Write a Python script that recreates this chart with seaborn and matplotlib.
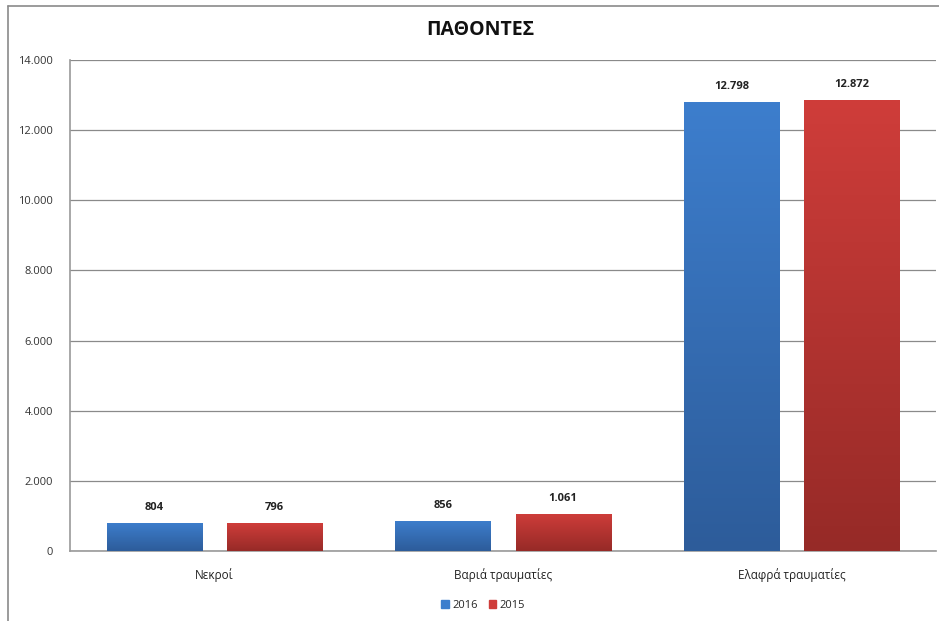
import matplotlib
matplotlib.use("Agg")
import matplotlib.pyplot as plt
import matplotlib.colors as mcolors
from matplotlib.patches import Rectangle
from matplotlib.lines import Line2D
import numpy as np
import pandas as pd
import seaborn as sns

categories = ["Νεκροί", "Βαριά τραυματίες", "Ελαφρά τραυματίες"]
years = ["2016", "2015"]
values_2016 = [804, 856, 12798]
values_2015 = [796, 1061, 12872]
yticks = [0, 2000, 4000, 6000, 8000, 10000, 12000, 14000]

df = pd.DataFrame({
    "cat": categories * 2,
    "year": [years[0]] * 3 + [years[1]] * 3,
    "val": values_2016 + values_2015,
})

sns.set_theme(style="white")
plt.rcParams['font.family'] = ['Open Sans', 'DejaVu Sans']

fig = plt.figure(figsize=(9.39, 6.21), dpi=100)
ax = fig.add_axes([70/939, 1-551/621, 866/939, 491/621])

top_cols = {"2016": "#3D7ECD", "2015": "#CF3D3A"}
bot_cols = {"2016": "#2D5C9A", "2015": "#962A27"}

sns.barplot(data=df, x="cat", y="val", hue="year", order=categories,
            hue_order=years, palette=top_cols, width=0.834, gap=0.21,
            ax=ax, legend=False, edgecolor="none", zorder=3)

ax.set_ylim(0, 14000)
ax.set_xlim(-0.5, 2.5)
ax.set_yticks(yticks)
ax.set_yticklabels([f"{v:,}".replace(",", ".") for v in yticks], fontsize=8, color="#333333")
ax.tick_params(axis="y", length=0, pad=12)
ax.tick_params(axis="x", length=0, pad=12, labelsize=8.5)
ax.set_xlabel("")
ax.set_ylabel("")
for lab in ax.get_xticklabels():
    lab.set_color("#222222")

ax.grid(axis="y", color="#8a8a8a", linewidth=0.9, zorder=0)
ax.set_axisbelow(True)
for s in ["top", "right"]:
    ax.spines[s].set_visible(False)
ax.spines["left"].set_color("#999999")
ax.spines["bottom"].set_color("#999999")
ax.spines["left"].set_linewidth(1.2)
ax.spines["bottom"].set_linewidth(1.2)

# gradient fill and labels
containers = ax.containers
for cont, yr in zip(containers, years):
    cmap = mcolors.LinearSegmentedColormap.from_list("g", [bot_cols[yr], top_cols[yr]])
    grad = np.linspace(0, 1, 256).reshape(-1, 1)
    for patch in cont:
        x0 = patch.get_x(); w = patch.get_width(); h = patch.get_height()
        im = ax.imshow(grad, cmap=cmap, aspect="auto", origin="lower",
                       extent=[x0, x0 + w, 0, h], zorder=4)
        im.set_clip_path(patch)
    ax.bar_label(cont, labels=[f"{int(v):,}".replace(",", ".") for v in cont.datavalues],
                 padding=7, fontsize=8, fontweight="bold", color="#222222", zorder=5)
ax.set_xlim(-0.5, 2.5)
ax.set_ylim(0, 14000)

fig.text(480/939, 1-30/621, "ΠΑΘΟΝΤΕΣ", ha="center", va="center",
         fontsize=14, fontweight="bold", color="#111111")

# legend
handles = [Rectangle((0, 0), 1, 1, color=top_cols[y]) for y in years]
fig.legend(handles, years, loc="center", bbox_to_anchor=(483/939, 1-605/621),
           ncol=2, frameon=False, fontsize=8, handlelength=0.7, handleheight=0.7,
           handletextpad=0.3, columnspacing=1.0)

# outer frame
fig.add_artist(Line2D([8/939, 8/939], [0, 1-6/621], transform=fig.transFigure,
                      color="#8a8a8a", linewidth=1.2))
fig.add_artist(Line2D([8/939, 1], [1-6/621, 1-6/621], transform=fig.transFigure,
                      color="#8a8a8a", linewidth=1.2))

fig.savefig("out.png", dpi=100)
